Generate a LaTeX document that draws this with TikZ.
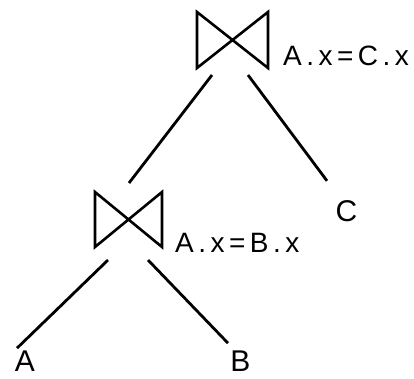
\documentclass[tikz,border=0pt]{standalone}
\usepackage{fontspec}
\setmainfont{Liberation Sans}
\newfontfamily\condfont[LetterSpace=16]{Liberation Sans}
\usetikzlibrary{calc}

\begin{document}
\begin{tikzpicture}[
  x=1pt, y=-1pt,
  joinbox/.style={inner sep=0pt, outer sep=0pt, minimum width=#1, minimum height=55pt},
  bowtie/.style={draw=black, line width=2.6pt, line join=miter},
  cond/.style={anchor=base west, inner sep=0pt, font=\condfont\fontsize{28}{32}\selectfont},
  leaf/.style={anchor=base, inner sep=2pt, font=\fontsize{30}{34}\selectfont},
  treeedge/.style={draw=black, line width=2.8pt},
]
\useasboundingbox (0,0) rectangle (414,378);

%====================== JOINS ======================
\node[joinbox=71pt, minimum height=56pt] (jtop) at (232.5,40) {};
\node[joinbox=67pt] (jlow) at (128.5,219.5) {};
\foreach \j in {jtop,jlow}
  \draw[bowtie] (\j.north west) -- (\j.south east) -- (\j.north east) -- (\j.south west) -- cycle;

\node[cond] (ctop) at (283,65)  {A.x=C.x};
\node[cond] (clow) at (175,252) {A.x=B.x};

%====================== RELATIONS ======================
\node[leaf] (A) at (25,371)    {A};
\node[leaf] (B) at (240.5,371) {B};
\node[leaf] (C) at (346.5,221) {C};

%====================== EDGES ======================
\draw[treeedge] ($(jtop.south)+(-20.5,7)$) -- ($(jlow.north)+(0.5,-9)$);
\draw[treeedge] ($(jtop.south)+(15.5,7)$)  -- ($(C.north)+(-19.5,-17)$);
\draw[treeedge] ($(jlow.south)+(-20.5,13)$) -- ($(A.north)+(-8,0)$);
\draw[treeedge] ($(jlow.south)+(19.5,13)$)  -- ($(B.north)+(-12.5,-5)$);
\end{tikzpicture}
\end{document}
